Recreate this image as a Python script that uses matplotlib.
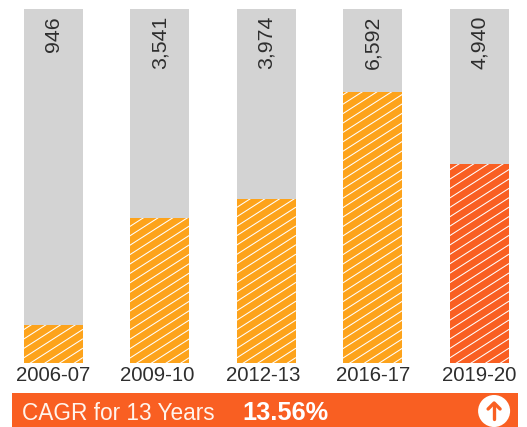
import numpy as np
import matplotlib
matplotlib.use("Agg")
import matplotlib.pyplot as plt
from matplotlib.patches import Circle, Rectangle
from matplotlib.transforms import Affine2D

plt.rcParams["font.family"] = ["Liberation Sans", "DejaVu Sans"]

W, H = 527, 427

periods = ["2006-07", "2009-10", "2012-13", "2016-17", "2019-20"]
value_labels = ["946", "3,541", "3,974", "6,592", "4,940"]
# Fill height as a share of the grey track.
# The bars are not quite proportional to the printed numbers.
fill_pct = [10.7, 41.0, 46.3, 76.6, 56.2]
band_label = "CAGR for 13 Years"
band_value = "13.56%"

AMBER = "#fda31b"
ORANGE = "#f95f22"
GREY = "#d3d3d3"
INK = "#2e2e2e"
bar_colors = [AMBER, AMBER, AMBER, AMBER, ORANGE]

# the 0.1 keeps 4.27 * 100 from truncating to 426 px
fig = plt.figure(figsize=((W + 0.1) / 100, (H + 0.1) / 100), dpi=100, facecolor="white")

# Plot area in pixels: bars run from y=9 to y=363
top, bottom = 9, 363
ax = fig.add_axes([0, 1 - bottom / H, 1, (bottom - top) / H])
pitch = 106.5
ax.set_xlim(-53 / pitch, (W - 53) / pitch)
ymax = 100
ax.set_ylim(0, ymax)
bar_w = 59 / pitch

x = np.arange(len(fill_pct))
ax.bar(x, [ymax] * len(x), width=bar_w, color=GREY, zorder=1)
bars = ax.bar(x, fill_pct, width=bar_w, color=bar_colors, zorder=2)

# Shallow white hatch (matplotlib's own hatch is fixed at 45 degrees)
px_y = ymax / (bottom - top)
slope = 0.64
gap = 9.4
for b in bars:
    x0, w, h = b.get_x(), b.get_width(), b.get_height()
    h_px = h / px_y
    for start in np.arange(5 - 5 * gap, h_px + 1, gap):
        xs = np.array([x0, x0 + w])
        ys = np.array([start, start + slope * 59]) * px_y
        line, = ax.plot(xs, ys, color="white", lw=0.75, zorder=3)
        line.set_clip_path(b)

for xi, lab in zip(x, value_labels):
    ax.annotate(lab, (xi, ymax), xytext=(0.5, -7), textcoords="offset pixels",
                rotation=90, ha="center", va="top", fontsize=15.3, color=INK)

ax.set_xticks(x, periods)
ax.tick_params(axis="x", length=0, pad=2, labelsize=14.7, labelcolor=INK)
# labels sit slightly left of the bar centres for the middle columns
label_nudge = [0.5, -2, -2.5, 1, 0.5]
for tick, dx in zip(ax.get_xticklabels(), label_nudge):
    tick.set_transform(tick.get_transform() + Affine2D().translate(dx, 0))
ax.set_yticks([])
for s in ax.spines.values():
    s.set_visible(False)
ax.patch.set_alpha(0)

# Footer band, drawn in pixel coordinates
ov = fig.add_axes([0, 0, 1, 1])
ov.set_xlim(0, W)
ov.set_ylim(H, 0)
ov.axis("off")
ov.patch.set_alpha(0)
ov.add_patch(Rectangle((12, 393), 506, 34, color=ORANGE, lw=0))
ov.text(22, 413, band_label, color="#fff4ec", fontsize=16.3, va="center", ha="left")
ov.text(242, 413, band_value, color="white", fontsize=18.3, fontweight="bold",
        va="center", ha="left")
ov.add_patch(Circle((494, 411), 16, color="white", lw=0))
ov.plot([494, 494], [419, 404], color=ORANGE, lw=2.4, solid_capstyle="round")
ov.plot([488, 494, 500], [409, 403, 409], color=ORANGE, lw=2.4,
        solid_capstyle="round", solid_joinstyle="round")

fig.savefig("out.png", dpi=100)
plt.close(fig)
